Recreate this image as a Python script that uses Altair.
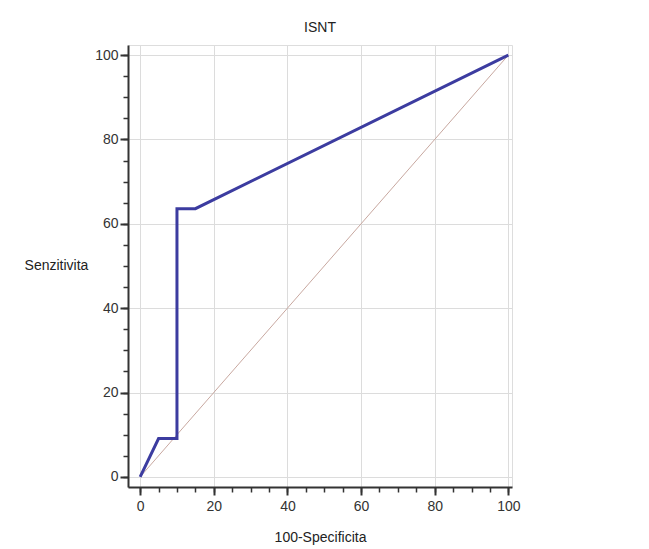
import altair as alt
import pandas as pd

roc_x = [0, 5, 10, 10, 15, 100]
roc_y = [0, 9.1, 9.1, 63.6, 63.6, 100]
diag_x = [0, 100]
diag_y = [0, 100]
major_ticks = [0, 20, 40, 60, 80, 100]
minor_ticks = list(range(0, 101, 5))

roc = pd.DataFrame({"x": roc_x, "y": roc_y, "o": range(len(roc_x))})
diag = pd.DataFrame({"x": diag_x, "y": diag_y})

xs = alt.Scale(domain=[-3.3, 101], nice=False, zero=False)
ys = alt.Scale(domain=[-2.4, 102.4], nice=False, zero=False)

font = "Liberation Sans"

xaxis = alt.Axis(orient="bottom", values=major_ticks, title="100-Specificita", grid=True, gridColor="#dcdcdc",
                 gridWidth=1, domainColor="#333", domainWidth=2, tickColor="#333", tickWidth=2,
                 tickSize=8, labelFontSize=14, labelColor="#333", labelFont=font, labelPadding=4,
                 titleFont=font, titleFontSize=14, titleFontWeight="normal", titleColor="#222",
                 titleY=50, titleBaseline="middle")
yaxis = alt.Axis(orient="left", values=major_ticks, title="Senzitivita", grid=True, gridColor="#dcdcdc",
                 gridWidth=1, domainColor="#333", domainWidth=2, tickColor="#333", tickWidth=2,
                 tickSize=8, labelFontSize=14, labelColor="#333", labelFont=font, labelPadding=2,
                 titleFont=font, titleFontSize=14, titleFontWeight="normal", titleColor="#222",
                 titleAngle=0, titleX=-72, titleY=220, titleAlign="center", titleBaseline="middle")

xminor = alt.Axis(orient="bottom", values=minor_ticks, title=None, labels=False, grid=False, domain=False,
                  tickColor="#333", tickWidth=1.5, tickSize=5)
yminor = alt.Axis(orient="left", values=minor_ticks, title=None, labels=False, grid=False, domain=False,
                  tickColor="#333", tickWidth=1.5, tickSize=5)

minor = alt.Chart(diag).mark_point(opacity=0).encode(
    x=alt.X("x:Q", scale=xs, axis=xminor),
    y=alt.Y("y:Q", scale=ys, axis=yminor),
)

diag_line = alt.Chart(diag).mark_line(color="#c8a8a0", strokeWidth=1).encode(
    x=alt.X("x:Q", scale=xs, axis=xaxis),
    y=alt.Y("y:Q", scale=ys, axis=yaxis),
)

roc_line = alt.Chart(roc).mark_line(color="#3c3ca0", strokeWidth=3).encode(
    x=alt.X("x:Q", scale=xs, axis=None),
    y=alt.Y("y:Q", scale=ys, axis=None),
    order="o:Q",
)

chart = alt.layer(diag_line, minor, roc_line).resolve_axis(
    x="independent", y="independent"
).properties(
    width=384, height=442,
    title=alt.TitleParams("ISNT", font=font, fontSize=14, fontWeight="normal", color="#222", offset=10),
    autosize=alt.AutoSizeParams(type="none"),
    padding={"left": 120, "top": 37, "right": 40, "bottom": 60},
).configure_view(stroke=None).configure(background="white")

chart.save("out.html", embed_options={"renderer": "svg", "actions": False})
